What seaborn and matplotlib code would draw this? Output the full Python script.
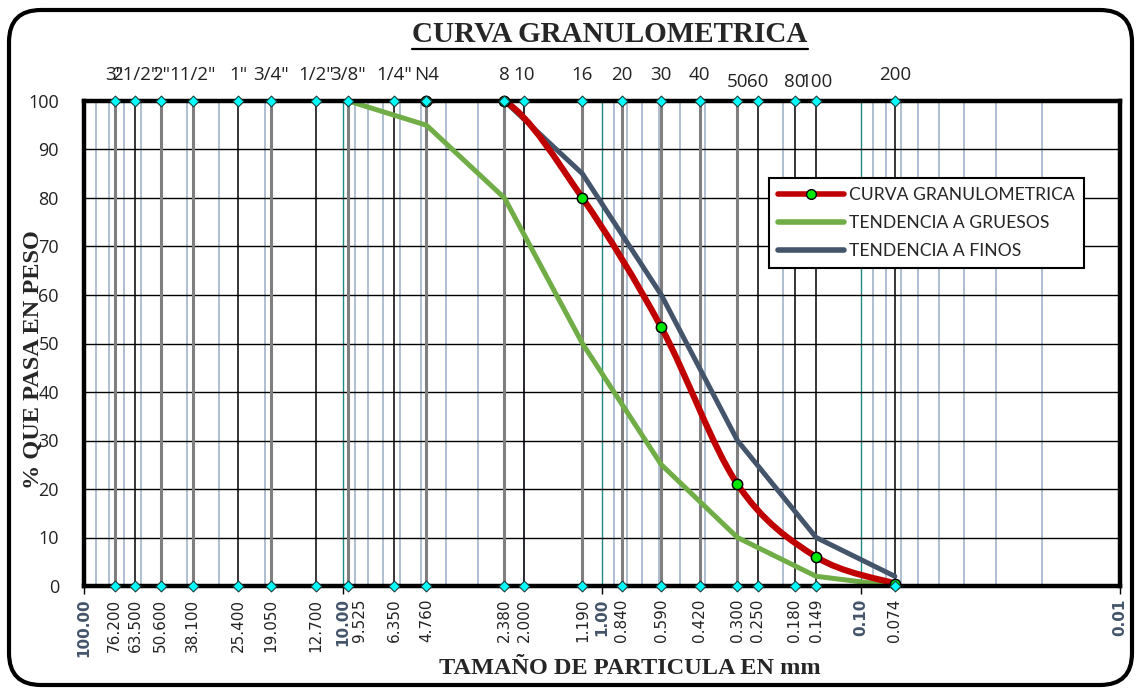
import numpy as np
import pandas as pd
import matplotlib
matplotlib.use("Agg")
import matplotlib.pyplot as plt
import seaborn as sns
from matplotlib.path import Path
from matplotlib.patches import PathPatch, FancyBboxPatch
from matplotlib.lines import Line2D
import matplotlib.transforms as mtransforms
from matplotlib.ticker import LogLocator, NullFormatter

# ---------------- data ----------------
sieve_mm = [76.2, 63.5, 50.6, 38.1, 25.4, 19.05, 12.7, 9.525, 6.35, 4.76,
            2.38, 2.0, 1.19, 0.84, 0.59, 0.42, 0.30, 0.25, 0.18, 0.149, 0.074]
sieve_names = ['3"', '21/2"', '2"', '11/2"', '1"', '3/4"', '1/2"', '3/8"', '1/4"', 'N4',
               '8', '10', '16', '20', '30', '40', '50', '60', '80', '100', '200']
sieve_labels = ['76.200', '63.500', '50.600', '38.100', '25.400', '19.050', '12.700',
                '9.525', '6.350', '4.760', '2.380', '2.000', '1.190', '0.840', '0.590',
                '0.420', '0.300', '0.250', '0.180', '0.149', '0.074']

curve_mm = [4.76, 2.38, 1.19, 0.59, 0.30, 0.149, 0.074]
curve_pct = [100, 100, 80, 53.3, 21, 6, 0.5]
coarse_mm = [9.525, 4.76, 2.38, 1.19, 0.59, 0.30, 0.149, 0.074]
coarse_pct = [100, 95, 80, 50, 25, 10, 2, 0]
fine_mm = [2.38, 1.19, 0.59, 0.30, 0.149, 0.074]
fine_pct = [100, 85, 60, 30, 10, 2]

decades = [100, 10, 1, 0.1, 0.01]
decade_labels = ['100.00', '10.00', '1.00', '0.10', '0.01']
y_ticks = list(range(0, 101, 10))

series_names = ['CURVA GRANULOMETRICA', 'TENDENCIA A GRUESOS', 'TENDENCIA A FINOS']

# ---------------- style ----------------
sns.set_theme(style="white")
plt.rcParams['font.family'] = ['Open Sans', 'DejaVu Sans']

RED = '#C00000'
GREEN = '#70AD47'
SLATE = '#44546A'
TEAL = '#1E8C82'
MINOR = '#A9B9CE'

fig = plt.figure(figsize=(11.4, 6.88), dpi=100)
ax = fig.add_axes([84 / 1140, 102 / 688, 1036 / 1140, 485 / 688])
ax.set_xscale('log')
ax.set_xlim(100, 0.01)
ax.set_ylim(0, 100)

# grid
ax.set_yticks(y_ticks)
ax.yaxis.grid(True, color='black', lw=1.0, zorder=1)
ax.xaxis.set_minor_locator(LogLocator(base=10, subs=np.arange(2, 10)))
ax.xaxis.set_minor_formatter(NullFormatter())
ax.xaxis.grid(True, which='minor', color=MINOR, lw=1.3)
ax.xaxis.grid(True, which='major', color=TEAL, lw=1.0)
ax.set_axisbelow(True)

# sieve vertical lines
black_thin = {63.5, 25.4, 12.7, 6.35, 2.0, 0.25, 0.18, 0.149, 0.074}
sv = pd.DataFrame({'mm': sieve_mm, 'name': sieve_names, 'lab': sieve_labels})
thin = sv[sv['mm'].isin(black_thin)]
thick = sv[~sv['mm'].isin(black_thin)]
ax.vlines(thick['mm'], 0, 100, color='#7F7F7F', lw=2.2, zorder=2)
ax.vlines(thin['mm'], 0, 100, color='black', lw=1.1, zorder=2)

# trend lines
df_c = pd.DataFrame({'mm': coarse_mm, 'pct': coarse_pct})
df_f = pd.DataFrame({'mm': fine_mm, 'pct': fine_pct})
sns.lineplot(data=df_c, x='mm', y='pct', ax=ax, color=GREEN, lw=3.6, sort=False,
             estimator=None, zorder=4)
sns.lineplot(data=df_f, x='mm', y='pct', ax=ax, color=SLATE, lw=3.6, sort=False,
             estimator=None, zorder=4)


# smoothed granulometric curve (Bezier, like a spreadsheet smoothed line)
def smooth_path(xs, ys):
    P = np.column_stack([np.log10(np.asarray(xs, float)), np.asarray(ys, float)])
    n = len(P)
    verts = [P[0]]
    codes = [Path.MOVETO]
    for i in range(n - 1):
        p0 = P[max(i - 1, 0)]
        p1 = P[i]
        p2 = P[i + 1]
        p3 = P[min(i + 2, n - 1)]
        c1 = p1 + (p2 - p0) / 6.0
        c2 = p2 - (p3 - p1) / 6.0
        verts += [c1, c2, p2]
        codes += [Path.CURVE4] * 3
    verts = np.array(verts)
    verts[:, 0] = 10 ** verts[:, 0]
    return Path(verts, codes)


red_patch = PathPatch(smooth_path(curve_mm, curve_pct), fill=False, edgecolor=RED,
                      lw=4.5, capstyle='round', joinstyle='round', zorder=5,
                      transform=ax.transData)
ax.add_patch(red_patch)

# cyan diamonds at sieve positions (top and bottom)
dd = pd.concat([pd.DataFrame({'mm': sieve_mm, 'pct': 100}),
                pd.DataFrame({'mm': sieve_mm, 'pct': 0})])
sns.scatterplot(data=dd, x='mm', y='pct', ax=ax, marker='D', s=30, color='#00FFFF',
                edgecolor='#1F3F3F', linewidth=0.8, zorder=8, clip_on=False)

# green markers on curve
df_r = pd.DataFrame({'mm': curve_mm, 'pct': curve_pct})
sns.scatterplot(data=df_r, x='mm', y='pct', ax=ax, marker='o', s=55, color='#00E800',
                edgecolor='black', linewidth=1.1, zorder=7, clip_on=False)

# spines
for side in ['top', 'bottom', 'left', 'right']:
    ax.spines[side].set_visible(True)
    ax.spines[side].set_color('black')
    ax.spines[side].set_linewidth(3.2)
    ax.spines[side].set_zorder(6)

# ticks
ax.set_xticks(decades)
ax.set_xticklabels(decade_labels, rotation=90, fontweight='bold', color=SLATE,
                   fontsize=11, family='DejaVu Sans', va='top')
ax.tick_params(axis='x', which='major', length=6, width=1, color='black', pad=3,
               bottom=True, direction='out')
ax.tick_params(axis='x', which='minor', length=0)
ax.tick_params(axis='y', length=0, pad=18, labelsize=13, colors='#222222')
ax.set_xlabel('')
ax.set_ylabel('')

# sieve size labels (bottom) and sieve names (top)
tb = mtransforms.blended_transform_factory(ax.transData, ax.transAxes)
for mm, lab in zip(sieve_mm, sieve_labels):
    off = mtransforms.ScaledTranslation(11 / 100 if lab == '9.525' else 0, 0,
                                        fig.dpi_scale_trans)
    ax.text(mm, -0.026, lab, transform=tb + off, rotation=90, ha='center', va='top',
            fontsize=11, family='DejaVu Sans', color='#222222')
lowered = {'50', '60', '80', '100'}
for mm, nm in zip(sieve_mm, sieve_names):
    yy = 1.039 if nm in lowered else 1.053
    ax.text(mm, yy, nm, transform=tb, ha='center', va='center', fontsize=13.5,
            color='#222222')

# legend
handles = [Line2D([], [], color=RED, lw=4, marker='o', markerfacecolor='#00E800',
                  markeredgecolor='black', markersize=7, solid_capstyle='round'),
           Line2D([], [], color=GREEN, lw=4, solid_capstyle='round'),
           Line2D([], [], color=SLATE, lw=4, solid_capstyle='round')]
leg = ax.legend(handles, series_names, loc='upper left',
                bbox_to_anchor=(0.661, 0.841), frameon=True, fancybox=False,
                edgecolor='black', framealpha=1, handlelength=3.8, handletextpad=0.3,
                labelspacing=0.7, borderpad=0.5, borderaxespad=0,
                prop={'family': 'Lato', 'size': 12.6})
leg.get_frame().set_linewidth(1.5)
leg.set_zorder(10)

# axis titles
fig.text(33 / 1140, 1 - 360 / 688, '% QUE PASA EN PESO', rotation=90, ha='center',
         va='center', fontsize=17.5, fontweight='bold', family='Liberation Serif')
fig.text(630 / 1140, 1 - 668 / 688, 'TAMAÑO DE PARTICULA EN mm', ha='center',
         va='center', fontsize=17.5, fontweight='bold', family='Liberation Serif')
title = fig.text(610 / 1140, 1 - 34 / 688, 'CURVA GRANULOMETRICA', ha='center',
                 va='center', fontsize=21, fontweight='bold', family='Liberation Serif')

# rounded outer frame
frame = FancyBboxPatch((0.09, 0.03), 11.23, 6.75,
                       boxstyle='round,pad=0,rounding_size=0.32',
                       transform=fig.dpi_scale_trans, fill=False, edgecolor='black',
                       lw=3.0, zorder=20)
fig.patches.append(frame)

# underline title
fig.canvas.draw()
bb = title.get_window_extent()
W, H = fig.bbox.width, fig.bbox.height
fig.add_artist(Line2D([bb.x0 / W, bb.x1 / W], [(bb.y0 - 1) / H, (bb.y0 - 1) / H],
                      transform=fig.transFigure, color='black', lw=1.6))

fig.savefig('out.png', dpi=100)
